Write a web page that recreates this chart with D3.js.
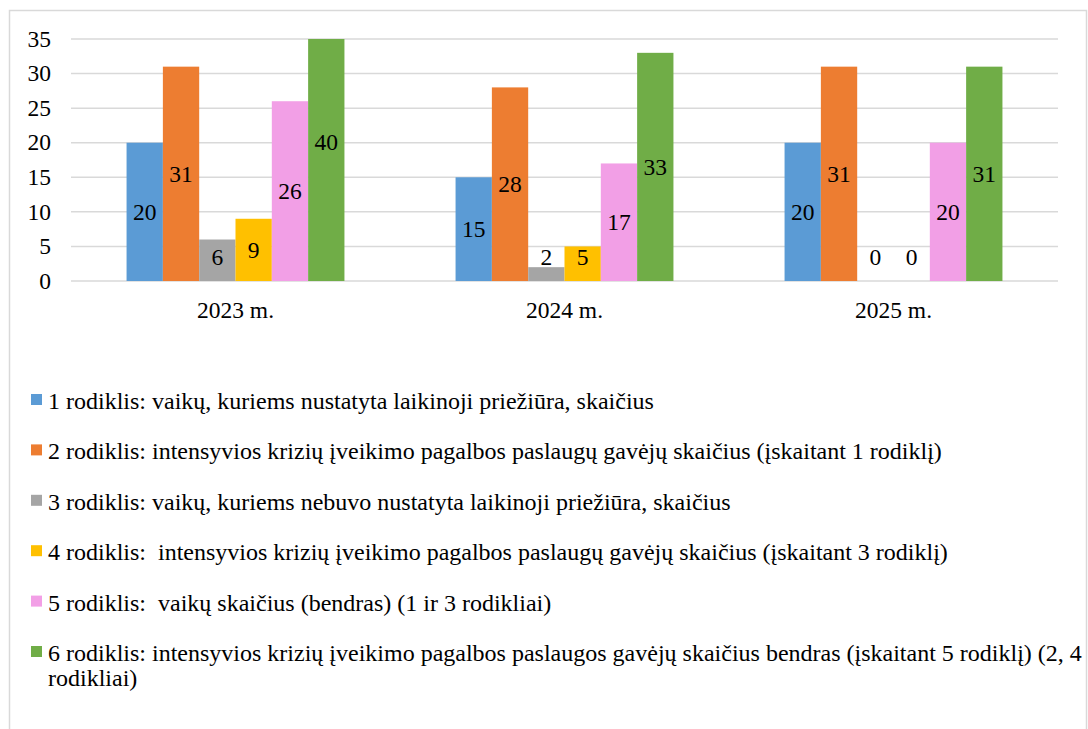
<!DOCTYPE html>
<html>
<head>
<meta charset="utf-8">
<script src="https://cdn.jsdelivr.net/npm/d3@7"></script>
<style>
  body { margin: 0; background: #fff; }
</style>
</head>
<body>
<div id="chart"></div>
<script>
const years = ["2023 m.", "2024 m.", "2025 m."];
const series = ["r1", "r2", "r3", "r4", "r5", "r6"];
const r1 = [20, 15, 20];
const r2 = [31, 28, 31];
const r3 = [6, 2, 0];
const r4 = [9, 5, 0];
const r5 = [26, 17, 20];
const r6 = [40, 33, 31];
const yTicks = [0, 5, 10, 15, 20, 25, 30, 35];
const colors = ["#5b9bd5", "#ed7d31", "#a5a5a5", "#ffc000", "#f29fe6", "#70ad47"];
const legendLabels = [
    "1 rodiklis: vaikų, kuriems nustatyta laikinoji priežiūra, skaičius",
    "2 rodiklis: intensyvios krizių įveikimo pagalbos paslaugų gavėjų skaičius (įskaitant 1 rodiklį)",
    "3 rodiklis: vaikų, kuriems nebuvo nustatyta laikinoji priežiūra, skaičius",
    "4 rodiklis:  intensyvios krizių įveikimo pagalbos paslaugų gavėjų skaičius (įskaitant 3 rodiklį)",
    "5 rodiklis:  vaikų skaičius (bendras) (1 ir 3 rodikliai)",
    "6 rodiklis: intensyvios krizių įveikimo pagalbos paslaugos gavėjų skaičius bendras (įskaitant 5 rodiklį) (2, 4\nrodikliai)"
];

const values = [r1, r2, r3, r4, r5, r6];
const data = years.map((yr, i) => ({ year: yr, vals: series.map((s, j) => ({ key: s, idx: j, v: values[j][i] })) }));

const width = 1088, height = 729;
const margin = { top: 39, right: 30, bottom: 448, left: 71 };
const fontSize = 23.5;
const serif = "Liberation Serif";

let svg = d3.select("#chart").append("svg")
    .attr("width", width).attr("height", height);

// outer frame
svg.append("rect")
    .attr("x", 9.5).attr("y", 10.5)
    .attr("width", 1077).attr("height", 740)
    .attr("fill", "none").attr("stroke", "#d9d9d9").attr("stroke-width", 1.5);

let x0 = d3.scaleBand().domain(years).range([margin.left, width - margin.right]);
let x1 = d3.scaleBand().domain(series).range([0, x0.bandwidth()]).paddingInner(0).paddingOuter(1.53);
let y = d3.scaleLinear().domain([0, 35]).range([height - margin.bottom, margin.top]);

// gridlines
svg.append("g").selectAll("line").data(yTicks).join("line")
    .attr("x1", margin.left).attr("x2", width - margin.right)
    .attr("y1", d => y(d)).attr("y2", d => y(d))
    .attr("stroke", "#d9d9d9").attr("stroke-width", 1.5);

// y tick labels
svg.append("g").selectAll("text").data(yTicks).join("text")
    .attr("x", 51).attr("y", d => y(d))
    .attr("dy", "0.33em")
    .attr("text-anchor", "end")
    .style("font-family", serif)
    .style("font-size", fontSize + "px")
    .text(d => d);

let group = svg.selectAll(".grp").data(data).join("g")
    .attr("class", "grp")
    .attr("transform", d => `translate(${x0(d.year)},0)`);

group.selectAll("rect").data(d => d.vals).join("rect")
    .attr("x", d => x1(d.key))
    .attr("width", x1.bandwidth())
    .attr("y", d => y(Math.min(d.v, 35)))
    .attr("height", d => y(0) - y(Math.min(d.v, 35)))
    .attr("fill", d => colors[d.idx]);

// value labels, centred at half the value (small bars pushed up a bit)
group.selectAll("text").data(d => d.vals).join("text")
    .attr("x", d => x1(d.key) + x1.bandwidth() / 2)
    .attr("y", d => Math.min(y(d.v / 2), y(0) - 24))
    .attr("dy", "0.33em")
    .attr("text-anchor", "middle")
    .style("font-family", serif)
    .style("font-size", fontSize + "px")
    .text(d => d.v);

// category labels
svg.append("g").selectAll("text").data(years).join("text")
    .attr("x", d => x0(d) + x0.bandwidth() / 2)
    .attr("y", 310).attr("dy", "0.33em")
    .attr("text-anchor", "middle")
    .style("font-family", serif)
    .style("font-size", fontSize + "px")
    .text(d => d);

// legend
let legend = svg.append("g").selectAll("g").data(legendLabels).join("g")
    .attr("transform", (d, i) => `translate(31,${401 + i * 50.4})`);

legend.append("rect")
    .attr("x", 0).attr("y", -7).attr("width", 11).attr("height", 11)
    .attr("fill", (d, i) => colors[i]);

legend.append("text")
    .attr("x", 17).attr("y", 0)
    .attr("xml:space", "preserve")
    .style("white-space", "pre")
    .style("font-family", serif)
    .style("font-size", "24px")
    .selectAll("tspan").data(d => d.split("\n")).join("tspan")
    .attr("x", 17)
    .attr("dy", (d, i) => i === 0 ? "0.33em" : "1.05em")
    .text(d => d);
</script>
</body>
</html>
